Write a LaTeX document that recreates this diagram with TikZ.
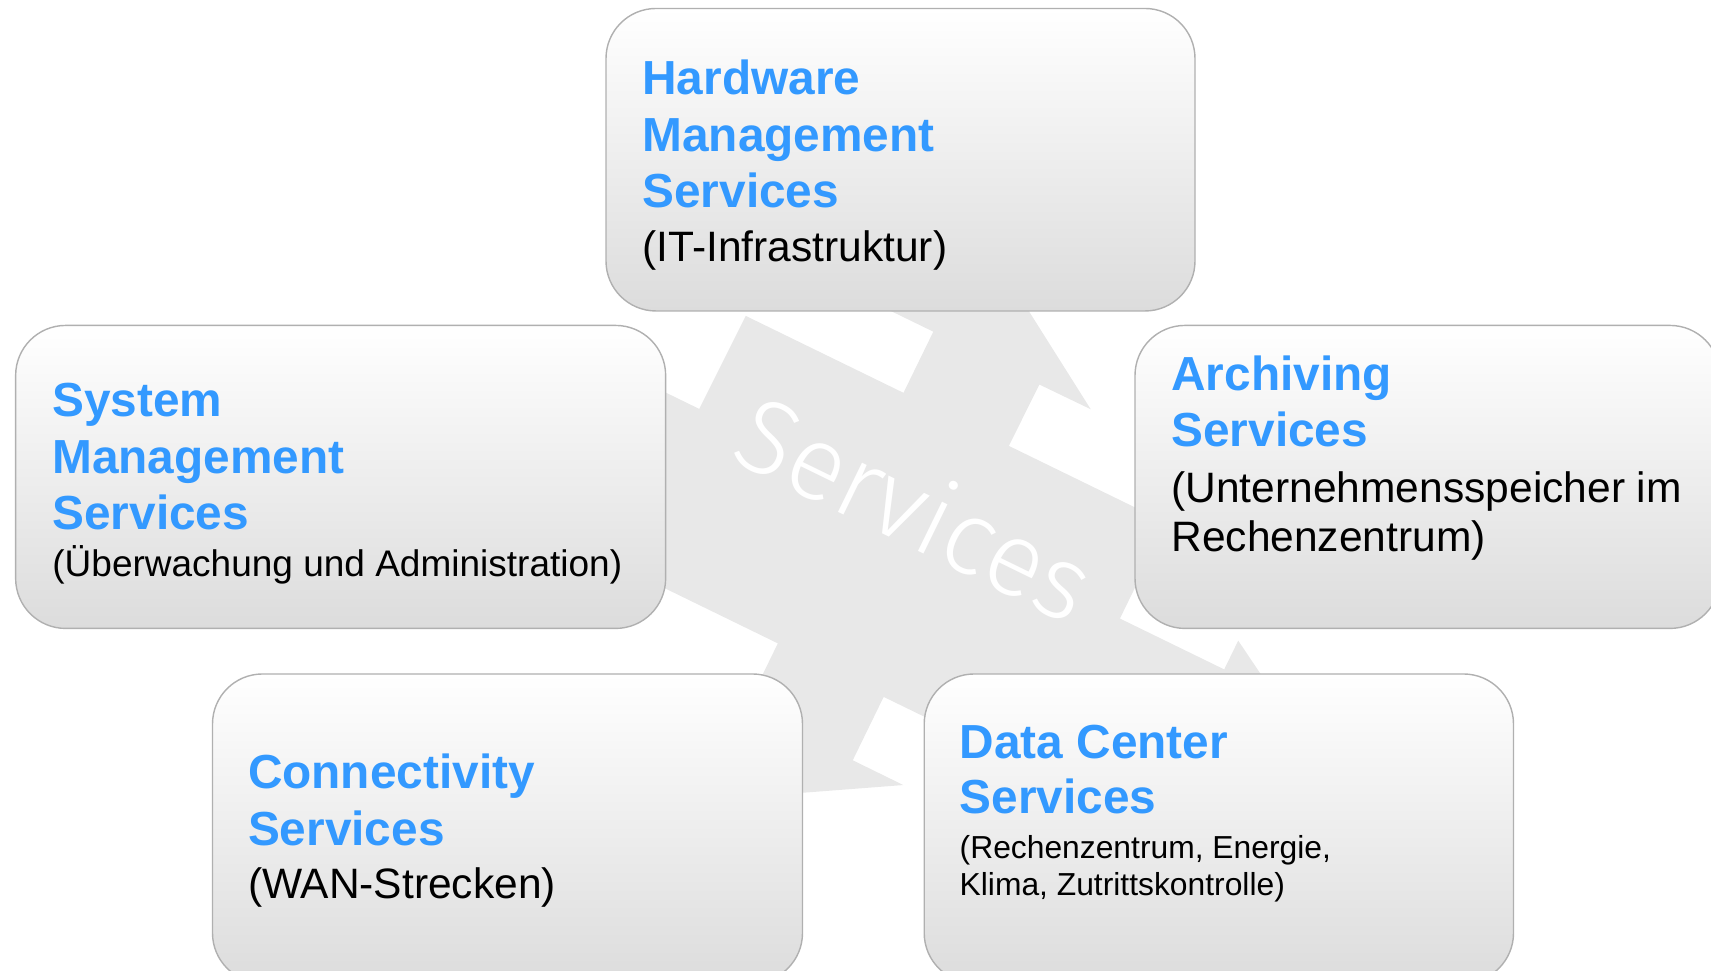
\documentclass[tikz,border=0pt]{standalone}
\usepackage{fontspec}
\setmainfont{Liberation Sans}
\newfontfamily\thinfont{Fira Sans Light}

\definecolor{svcblue}{HTML}{3399FF}
\definecolor{boxgray}{HTML}{DCDCDC}
\definecolor{boxline}{HTML}{B0B0B0}
\definecolor{arrowgray}{HTML}{E8E8E8}

\newcommand{\ttl}[1]{{\fontsize{13.6}{16}\selectfont\bfseries\color{svcblue}#1}}

\begin{document}
\begin{tikzpicture}[box/.style={draw=boxline, line width=0.4pt, rounded corners=0.5cm, top color=white, bottom color=boxgray, inner sep=0pt},
  txt/.style={anchor=base west, align=left, inner sep=0pt, font=\fontsize{12.1}{13.94}\selectfont}]
\useasboundingbox (0,0) rectangle (17.11,9.71);
% arrows behind the boxes
\begin{scope}[shift={(9.14,4.64)}, rotate=-26]
\fill[arrowgray] (-3,-0.06) -- (-2.36,-0.06) -- (-2.35,0.98) -- (-0.595,0.98) -- (-0.595,1.66) -- (-1.5,1.66) -- (-1.5,2.6) -- (-0.369,2.6) -- (1.16,1.653) -- (0.59,1.65) -- (0.585,0.965) -- (2.34,0.965) -- (2.34,-0.1) -- (3.5,-0.1) -- (3.5,0.22) -- (4.2,-0.186) -- (4.2,-1.84) -- (0.56,-1.84) -- (0.56,-2.545) -- (1.123,-2.546) -- (-0.2,-3.322) -- (-0.626,-3.322) -- (-0.626,-1.823) -- (-3,-1.823) -- cycle;
\end{scope}
\node[rotate=-26, text=white, font=\thinfont\fontsize{29.8}{30}\selectfont] (svc) at (9.16,4.64) {Services};
% boxes
\node[box, minimum width=5.89cm, minimum height=3.025cm] (hw) at (9.005,8.1125) {};
\node[box, minimum width=6.5cm, minimum height=3.03cm] (sys) at (3.4065,4.9405) {};
\node[box, minimum width=5.85cm, minimum height=3.03cm] (arch) at (14.275,4.9405) {};
\node[box, minimum width=5.9cm, minimum height=3.09cm] (conn) at (5.075,1.425) {};
\node[box, minimum width=5.893cm, minimum height=3.09cm] (dc) at (12.1885,1.425) {};
% texts (anchored at the last baseline)
\node[txt] (hwtext) at (6.417,7.093) {\ttl{Hardware}\\[2.1pt]\ttl{Management}\\[2.1pt]\ttl{Services}\\[1.5pt](IT-Infrastruktur)};
\node[txt, font=\fontsize{10.53}{13.29}\selectfont] (systext) at (0.517,3.943) {\ttl{System}\\[2.8pt]\ttl{Management}\\[2.8pt]\ttl{Services}\\(Überwachung und Administration)};
\node[txt] (archtext) at (11.707,4.193) {\ttl{Archiving}\\[2.1pt]\ttl{Services}\\[2pt](Unternehmensspeicher im\\Rechenzentrum)};
\node[txt] (conntext) at (2.473,0.727) {\ttl{Connectivity}\\[2.1pt]\ttl{Services}\\[1.2pt](WAN-Strecken)};
\node[txt, font=\fontsize{9.05}{10.73}\selectfont] (dctext) at (9.59,0.75) {\ttl{Data Center}\\[5.1pt]\ttl{Services}\\[1.9pt](Rechenzentrum, Energie,\\Klima, Zutrittskontrolle)};
\end{tikzpicture}
\end{document}
